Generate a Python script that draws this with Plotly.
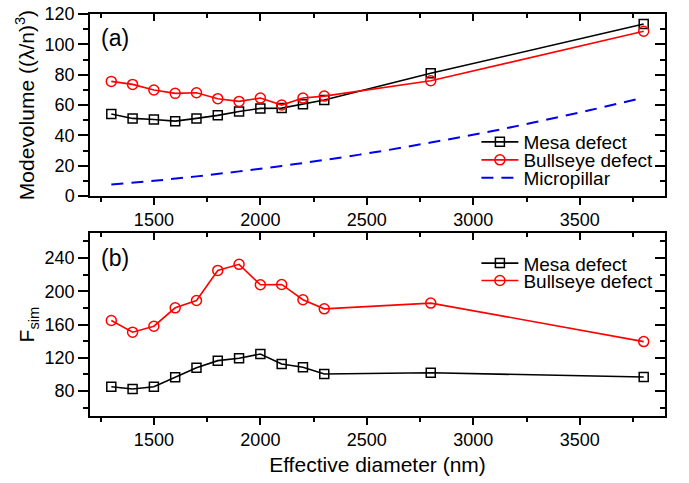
import plotly.graph_objects as go

# ---- data ----
diam = [1300, 1400, 1500, 1600, 1700, 1800, 1900, 2000, 2100, 2200, 2300, 2800, 3800]
v_mesa = [54.1, 51.2, 50.5, 49.4, 51.2, 53.2, 55.8, 57.8, 58.0, 60.6, 63.3, 80.9, 113.4]
v_bull = [75.6, 73.6, 69.9, 67.7, 68.1, 64.2, 62.4, 64.6, 60.0, 64.6, 65.9, 76.0, 108.6]
pillar_d = [1300, 1500, 1700, 1900, 2100, 2300, 2550, 2800, 3050, 3300, 3550, 3800]
v_pillar = [7.6, 10.1, 13.0, 16.3, 19.9, 23.8, 29.2, 35.3, 41.8, 49.0, 56.7, 65.0]
f_mesa = [85.2, 82.4, 85.2, 96.5, 108.1, 116.6, 119.4, 124.6, 112.6, 108.6, 100.5, 102.0, 96.9]
f_bull = [164.8, 150.8, 158.0, 180.1, 188.9, 225.1, 232.4, 207.9, 208.2, 189.8, 178.9, 185.8, 139.5]
x_ticks = [1500, 2000, 2500, 3000, 3500]

FONT = "Liberation Sans, Arial, sans-serif"
XR = [1200, 3900]
YR1 = [0, 120]
YR2 = [50, 270]

fig = go.Figure()

sq = dict(symbol="square-open", size=9, color="black", line=dict(width=1.5, color="black"))
ci = dict(symbol="circle-open", size=10, color="red", line=dict(width=1.5, color="red"))

LEG_X = 0.672
fig.add_trace(go.Scatter(x=diam, y=v_mesa, mode="lines+markers", name="Mesa defect",
                         line=dict(color="black", width=1.6), marker=sq,
                         xaxis="x", yaxis="y", legend="legend"))
fig.add_trace(go.Scatter(x=diam, y=v_bull, mode="lines+markers", name="Bullseye defect",
                         line=dict(color="red", width=1.6), marker=ci,
                         xaxis="x", yaxis="y", legend="legend3"))
fig.add_trace(go.Scatter(x=pillar_d, y=v_pillar, mode="lines", name="Micropillar",
                         line=dict(color="#0000ee", width=2, dash="12px,8px", shape="spline"),
                         xaxis="x", yaxis="y", legend="legend4"))
fig.add_trace(go.Scatter(x=diam, y=f_mesa, mode="lines+markers", name="Mesa defect",
                         line=dict(color="black", width=1.6), marker=sq,
                         xaxis="x2", yaxis="y2", legend="legend2"))
fig.add_trace(go.Scatter(x=diam, y=f_bull, mode="lines+markers", name="Bullseye defect",
                         line=dict(color="red", width=1.6), marker=ci,
                         xaxis="x2", yaxis="y2", legend="legend5"))

tickfont = dict(family=FONT, size=18, color="black")
titlefont = dict(family=FONT, size=21, color="black")

TOP = [0.547, 1.0]
BOT = [0.0, 0.455]


def xax(anchor, show_title):
    d = dict(range=XR, domain=[0, 1], anchor=anchor, tickvals=x_ticks, ticks="outside",
             ticklen=7, tickwidth=1.5, tickcolor="black", showline=True, linecolor="black",
             linewidth=1.5, mirror=True, showgrid=False, zeroline=False, tickfont=tickfont,
             automargin=False,
             minor=dict(ticks="outside", dtick=250, tick0=1000, ticklen=4, tickwidth=1.5,
                        tickcolor="black", showgrid=False))
    if show_title:
        d["title"] = dict(text="Effective diameter (nm)", font=titlefont, standoff=8)
    return d


def yax(anchor, domain, rng, dt, mdt, title):
    return dict(range=rng, domain=domain, anchor=anchor, dtick=dt, ticks="outside",
                ticklen=10, tickwidth=1.5, tickcolor="black", showline=True, linecolor="black",
                linewidth=1.5, mirror=True, showgrid=False, zeroline=False, tickfont=tickfont,
                automargin=False,
                minor=dict(ticks="outside", dtick=mdt, ticklen=5, tickwidth=1.5,
                           tickcolor="black", showgrid=False),
                title=dict(text=title, font=titlefont, standoff=4))


def xin(over, anchor):
    return dict(range=XR, overlaying=over, anchor=anchor, side="top", tickvals=x_ticks,
                ticks="inside", ticklen=7, tickwidth=1.5, tickcolor="black",
                showticklabels=False, showgrid=False, zeroline=False, showline=False,
                automargin=False,
                minor=dict(ticks="inside", dtick=250, tick0=1000, ticklen=4, tickwidth=1.5,
                           tickcolor="black", showgrid=False))


def yin(over, anchor, rng, dt, mdt):
    return dict(range=rng, overlaying=over, anchor=anchor, side="right", dtick=dt,
                ticks="inside", ticklen=10, tickwidth=1.5, tickcolor="black",
                showticklabels=False, showgrid=False, zeroline=False, showline=False,
                automargin=False,
                minor=dict(ticks="inside", dtick=mdt, ticklen=5, tickwidth=1.5,
                           tickcolor="black", showgrid=False))


def leg(y):
    return dict(x=LEG_X, y=y, xanchor="left", yanchor="middle", bgcolor="rgba(0,0,0,0)",
                font=dict(family=FONT, size=19, color="black"), itemwidth=37,
                borderwidth=0)


fig.update_layout(
    width=689, height=483,
    margin=dict(l=90, r=24, t=14, b=67),
    paper_bgcolor="white", plot_bgcolor="white",
    font=dict(family=FONT, size=18, color="black"),
    xaxis=xax("y", False),
    yaxis=yax("x", TOP, YR1, 20, 10, "Modevolume ((λ/n)<sup>3</sup>)"),
    xaxis2=xax("y2", True),
    yaxis2=yax("x2", BOT, YR2, 40, 20, "F<sub>sim</sub>"),
    xaxis3=xin("x", "y"),
    yaxis3=yin("y", "x", YR1, 20, 10),
    xaxis4=xin("x2", "y2"),
    yaxis4=yin("y2", "x2", YR2, 40, 20),
    legend=leg(0.6816),
    legend3=leg(0.6368),
    legend4=leg(0.592),
    legend2=leg(0.380),
    legend5=leg(0.3366),
    annotations=[
        dict(text="(a)", xref="paper", yref="paper", x=0.015, y=0.9403, xanchor="left",
             yanchor="middle", showarrow=False, font=dict(family=FONT, size=23, color="black")),
        dict(text="(b)", xref="paper", yref="paper", x=0.015, y=0.393, xanchor="left",
             yanchor="middle", showarrow=False, font=dict(family=FONT, size=23, color="black")),
    ],
)

# invisible traces so the mirrored tick axes are drawn
fig.add_trace(go.Scatter(x=[None], y=[None], xaxis="x3", yaxis="y3", showlegend=False,
                         hoverinfo="skip"))
fig.add_trace(go.Scatter(x=[None], y=[None], xaxis="x4", yaxis="y4", showlegend=False,
                         hoverinfo="skip"))

fig.write_html("out.html", config={"displayModeBar": False},
               post_script="document.body.style.margin='0';document.body.style.padding='0';")
